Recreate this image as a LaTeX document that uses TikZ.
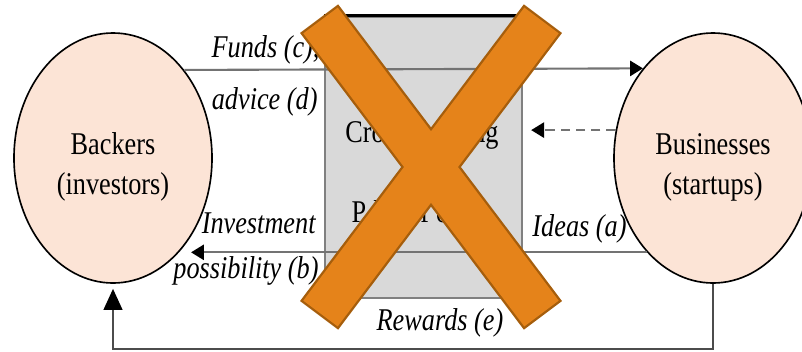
\documentclass[tikz,border=0pt]{standalone}
\usepackage{fontspec}
\setmainfont{Liberation Serif}[FakeStretch=0.83]
\usetikzlibrary{positioning, shapes.geometric, arrows.meta}
\definecolor{partyPeach}{HTML}{FCE4D6}
\definecolor{platformGrey}{HTML}{D9D9D9}
\definecolor{crossOrange}{HTML}{E5831A}
\definecolor{crossOrangeDark}{HTML}{A65E0C}

\begin{document}
\begin{tikzpicture}[
    x=0.015cm, y=-0.015cm,
    party/.style={draw=black, line width=0.7pt, ellipse, fill=partyPeach, minimum width=2.97cm, minimum height=3.75cm, inner sep=0pt},
    partyText/.style={align=center, font=\fontsize{13.5}{17}\selectfont, inner sep=0pt},
    platformBox/.style={draw=black!50, line width=1pt, rectangle, fill=platformGrey, minimum width=2.955cm, minimum height=4.215cm, inner sep=0pt},
    platformText/.style={align=center, font=\fontsize{13.5}{34}\selectfont, inner sep=0pt},
    flowLabel/.style={font=\fontsize{13.5}{16}\selectfont\itshape, inner sep=0pt},
    flow/.style={draw=black!55, line width=0.9pt, -{Triangle[length=5.5pt, width=6.5pt, color=black]}},
    rewardFlow/.style={draw=black!70, line width=0.9pt, -{Triangle[length=9pt, width=8pt, color=black]}, shorten >=0.75mm},
    crossEdge/.style={draw=crossOrangeDark, line width=2pt, fill=crossOrange, line join=miter},
    crossFill/.style={fill=crossOrange},
]
\useasboundingbox (0,0) rectangle (802,351);

% parties and platform
\node[party] (backers) at (113,158) {};
\node[party] (businesses) at (713,158) {};
\node[partyText] (backersText) at (113,167) {Backers\\(investors)};
\node[partyText] (businessesText) at (713,167) {Businesses\\(startups)};
\node[platformBox] (platform) at (423.5,157.5) {};
\draw[black, line width=1.3pt] (platform.north west) -- (platform.north east);
\node[platformText] (platformLabel) at (422,171.5) {Crowdfunding\\{\addfontfeature{LetterSpace=22}Platform}};

% flows
\draw[flow] (backers.51.4) -- (businesses.128.6);
\draw[flow, shorten >=1.8mm] (businesses.235.3) -- (backers.-55.3);
\draw[flow, dash pattern=on 4pt off 2.5pt, shorten >=1.2mm] (businesses.164.4) -- (platform.east |- businesses.164.4);
\draw[rewardFlow] (businesses.south) -- ++(0,65) -| (backers.south);

\node[flowLabel, anchor=east] (fundsLabel) at (320,50) {Funds (c),};
\node[flowLabel, anchor=east] (adviceLabel) at (318,102) {advice (d)};
\node[flowLabel, anchor=east] (investLabel) at (316,223) {Investment};
\node[flowLabel, anchor=east] (possibilityLabel) at (319,271) {possibility (b)};
\node[flowLabel, anchor=west] (ideasLabel) at (532,229) {Ideas (a)};
\node[flowLabel] (rewardsLabel) at (440,323) {Rewards (e)};

% the cross
\draw[crossEdge] (337.7,7.6) -- (558.7,300.6) -- (524.3,326.4) -- (303.3,33.4) -- cycle;
\draw[crossEdge] (303.3,300.6) -- (524.3,7.6) -- (558.7,33.4) -- (337.7,326.4) -- cycle;
\fill[crossFill] (337.7,7.6) -- (558.7,300.6) -- (524.3,326.4) -- (303.3,33.4) -- cycle;
\fill[crossFill] (303.3,300.6) -- (524.3,7.6) -- (558.7,33.4) -- (337.7,326.4) -- cycle;
\end{tikzpicture}
\end{document}
